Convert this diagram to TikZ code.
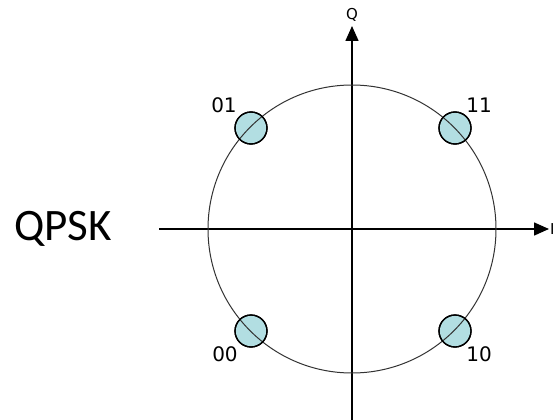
\documentclass[tikz,border=0pt]{standalone}
\usepackage{fontspec}
\setmainfont{DejaVu Sans}
\newfontfamily\qpskfont{Carlito}
\usetikzlibrary{arrows.meta}
\definecolor{ptfill}{RGB}{178,222,226}
\begin{document}
\begin{tikzpicture}[x=1pt,y=-1pt,
  axis/.style={line width=1.5pt,-{Triangle[length=15pt,width=13pt]}},
  pt/.style={circle,draw=black,line width=1.3pt,fill=ptfill,minimum size=32pt,inner sep=0pt},
  lbl/.style={font=\fontsize{20}{20}\selectfont,inner sep=0pt},
  axlbl/.style={font=\fontsize{15}{15}\selectfont,inner sep=0pt}]
\useasboundingbox (0,0) rectangle (554,420);
\coordinate (o) at (352,229);
\coordinate (xl) at (159,229);
\coordinate (xr) at (549,229);
\coordinate (yb) at (352,420);
\coordinate (yt) at (352,26);
\node[pt] (p01) at (251,128) {};
\node[pt] (p11) at (455,128) {};
\node[pt] (p00) at (251,331) {};
\node[pt] (p10) at (455,331) {};
\draw[axis] (xl) -- (xr);
\draw[axis] (yb) -- (yt);
\draw[line width=1pt,black!80] (o) circle[radius=144];
\foreach \p in {p01,p11,p00,p10}{\node[pt,fill=none] at (\p) {};}
\node[lbl] (l01) at (224,105) {01};
\node[lbl] (l11) at (479,105) {11};
\node[lbl] (l00) at (225,354) {00};
\node[lbl] (l10) at (479,354) {10};
\node[axlbl] (lq) at (352,15) {Q};
\node[axlbl,anchor=west] (li) at (550,229) {I};
\node[font=\qpskfont\fontsize{45}{45}\selectfont,inner sep=0pt] (title) at (63,229) {QPSK};
\end{tikzpicture}
\end{document}
